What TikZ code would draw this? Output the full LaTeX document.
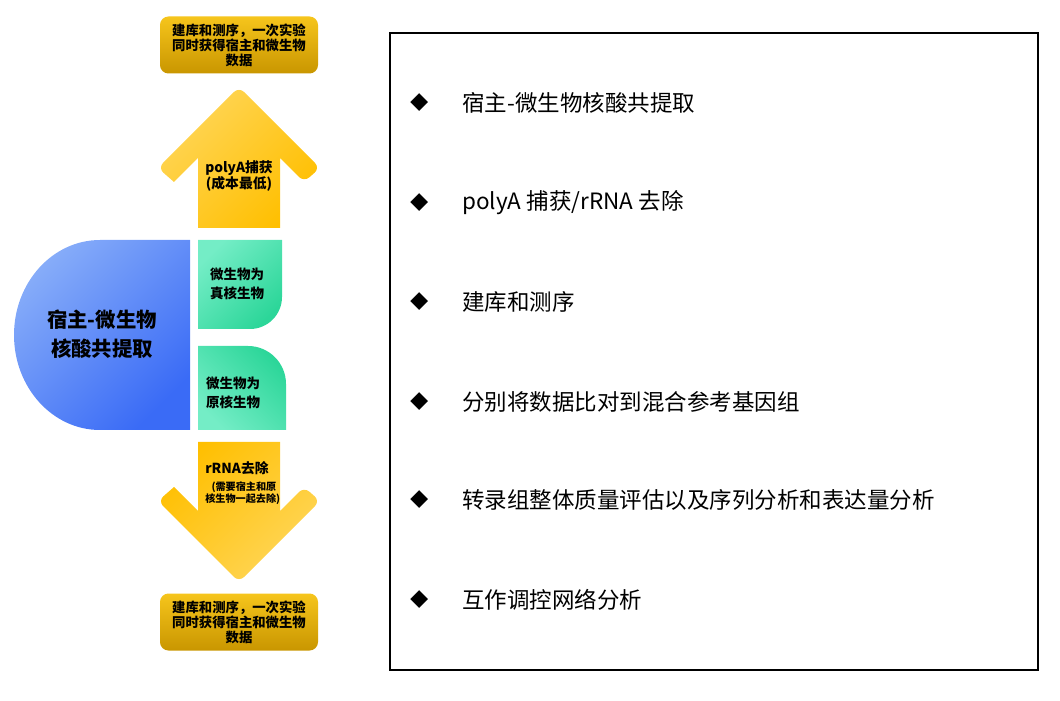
\documentclass[tikz,border=0pt]{standalone}
\usepackage{fontspec}
\setmainfont{Noto Sans CJK SC}
\usepackage{xcolor}
\usetikzlibrary{positioning}

\definecolor{hostlite}{HTML}{86ACF9}
\definecolor{hostdark}{HTML}{3A6BF6}
\definecolor{microlite}{HTML}{74EDC6}
\definecolor{microdark}{HTML}{2CD699}
\definecolor{arrowlite}{HTML}{FFD659}
\definecolor{arrowdark}{HTML}{FFBF00}
\definecolor{boxlite}{HTML}{F6C51C}
\definecolor{boxdark}{HTML}{C99600}

\begin{document}
\begin{tikzpicture}[x=0.025cm, y=-0.025cm,
            every node/.append style = {inner sep=0pt, align=center},
            hostpart/.style = {top color=hostlite, bottom color=hostdark, shading angle=45},
            microup/.style = {top color=microlite, bottom color=microdark, shading angle=45},
            microdown/.style = {top color=microdark, bottom color=microlite, shading angle=-45},
            arrowup/.style = {top color=arrowlite, bottom color=arrowdark, shading angle=45},
            arrowdown/.style = {top color=arrowdark, bottom color=arrowlite, shading angle=45},
            resultbox/.style = {rounded corners=6pt, top color=boxlite, bottom color=boxdark,
                minimum width=158*0.025cm, minimum height=57*0.025cm,
                font=\bfseries\fontsize{9.5}{10.6}\selectfont},
            armtext/.style = {font=\bfseries\fontsize{9.8}{11.3}\selectfont},
            cardtext/.style = {font=\bfseries\fontsize{9.6}{13.5}\selectfont},
            listtext/.style = {anchor=west, font=\fontsize{16}{19}\selectfont}]
        \useasboundingbox (0,0) rectangle (1060,701);
        % left part
        \shade[hostpart] (190,240) -- (100,240)
                arc[start angle=-90, end angle=-270, x radius=86, y radius=95] -- (190,430) -- cycle;
        \node[font=\bfseries\fontsize{14.5}{21}\selectfont] (nhost) at (102,334) {宿主-微生物\\核酸共提取};
        \shade[microup] (198,240) -- (282,240) -- (282,297)
                arc[start angle=0, end angle=90, radius=32] -- (198,329) -- cycle;
        \node[cardtext] (neuk) at (237,284) {微生物为\\真核生物};
        \shade[microdown] (198,346) -- (248,346)
                arc[start angle=-90, end angle=0, radius=38] -- (286,430) -- (198,430) -- cycle;
        \node[cardtext] (nprok) at (233,393) {微生物为\\原核生物};
        % arrows
        \shade[arrowup] (198,228) -- (198,158) -- (174,182) [rounded corners=5pt] -- (158,168)
                -- (239,87) -- (320,168) -- (304,182) [sharp corners] -- (280,158) -- (280,228) -- cycle;
        \node[armtext] (npoly) at (239,176) {polyA捕获\\(成本最低)};
        \shade[arrowdown] (198,442) -- (198,511) -- (174,487) [rounded corners=5pt] -- (158,501)
                -- (239,582) -- (320,501) -- (304,487) [sharp corners] -- (280,511) -- (280,442) -- cycle;
        \node[armtext, anchor=north west] (nrrna) at (205,461) {rRNA去除};
        \node[font=\bfseries\fontsize{7.2}{9.2}\selectfont, anchor=north west] (nrrnb) at (205,481)
                {\ (需要宿主和原\\核生物一起去除)};
        \node[resultbox] (ntop) at (239,45) {建库和测序，一次实验\\同时获得宿主和微生物\\数据};
        \node[resultbox] (nbot) at (239,622) {建库和测序，一次实验\\同时获得宿主和微生物\\数据};
        % right list
        \draw[line width=0.8pt] (390,33) rectangle (1038,670);
        \foreach \y/\t [count=\i] in {103/{宿主-微生物核酸共提取}, 203/{polyA 捕获/rRNA 去除},
                302/{建库和测序}, 402/{分别将数据比对到混合参考基因组},
                500/{转录组整体质量评估以及序列分析和表达量分析}, 600/{互作调控网络分析}} {
            \node[font=\fontsize{13}{13}\selectfont] (nmark\i) at (420,\y) {◆};
            \node[listtext] (nitem\i) at (462,\y) {\t};
        }
\end{tikzpicture}
\end{document}
